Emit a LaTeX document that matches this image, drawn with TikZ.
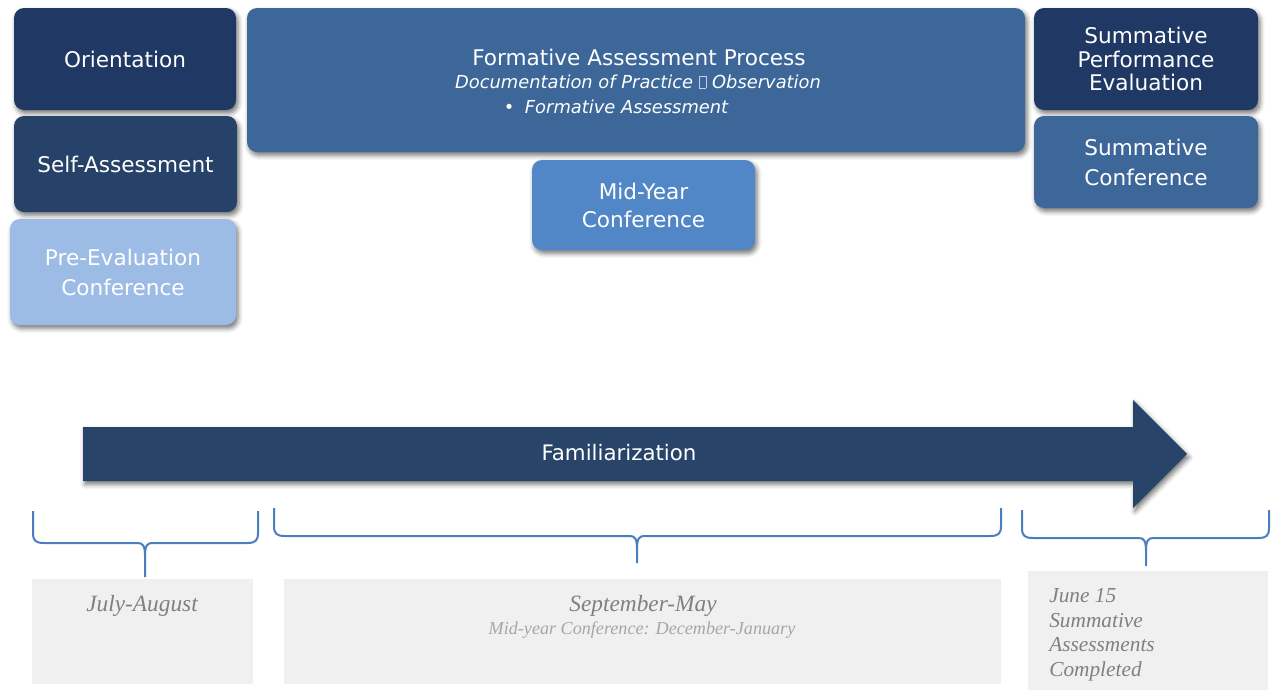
\documentclass[tikz,border=0pt]{standalone}
\usepackage{fontspec}
\setmainfont{DejaVu Sans}
\newfontfamily\timesit{Liberation Serif}[ItalicFont={* Italic}]
\usetikzlibrary{shadows.blur}
\definecolor{navy}{RGB}{31,56,100}
\definecolor{selfc}{RGB}{39,66,104}
\definecolor{prec}{RGB}{157,188,229}
\definecolor{formc}{RGB}{61,103,153}
\definecolor{midc}{RGB}{81,135,198}
\definecolor{arrowc}{RGB}{40,68,105}
\definecolor{bracec}{RGB}{74,126,191}
\definecolor{greybox}{RGB}{240,240,240}
\definecolor{greytext}{RGB}{128,128,128}
\definecolor{lighttext}{RGB}{166,166,166}
\tikzset{
  stagebox/.style={rounded corners=7.5pt, draw=none, text=white, align=center, inner sep=0pt,
    blur shadow={shadow xshift=1.5pt, shadow yshift=-2.5pt, shadow blur radius=3.5pt, shadow opacity=55},
    font=\fontsize{16.2}{22.5}\selectfont},
  brace/.style={draw=bracec, line width=1.5pt},
  datebox/.style={fill=greybox, draw=none, inner sep=0pt},
  datetext/.style={text=greytext, font=\timesit\itshape\fontsize{17.5}{20}\selectfont, inner sep=0pt}
}
\begin{document}
\begin{tikzpicture}[x=0.75pt, y=-0.75pt]
\useasboundingbox (0,0) rectangle (1271,690);
% top-left column
\node[stagebox, fill=navy, minimum width=166.5pt, minimum height=76.5pt] (orient) at (125,59) {Orientation};
\node[stagebox, fill=selfc, minimum width=167.25pt, minimum height=72pt] (self) at (125.5,164) {Self-Assessment};
\node[stagebox, fill=prec, minimum width=169.5pt, minimum height=79.5pt] (preeval) at (123,272) {Pre-Evaluation\\Conference};
% formative
\node[stagebox, fill=formc, minimum width=583.5pt, minimum height=108pt] (formative) at (636,80) {};
\node[anchor=base, text=white, inner sep=0pt, font=\fontsize{16.2}{20}\selectfont] (formtitle) at (639,65) {Formative Assessment Process};
\node[anchor=base, text=white, inner sep=0pt, font=\fontsize{13.4}{16}\selectfont\itshape] (formline2) at (638,88)
  {Documentation of Practice {\color{white!70!formc}\fboxrule=0.4pt\fboxsep=0pt\fbox{\phantom{\rule{5pt}{8.5pt}}}} Observation};
\node[anchor=base, text=white, inner sep=0pt, font=\fontsize{13.4}{16}\selectfont\itshape] (formline3) at (616,113)
  {\textbullet\hspace{8pt}Formative Assessment};
\node[stagebox, fill=midc, minimum width=167.25pt, minimum height=67.5pt, font=\fontsize{16.2}{21}\selectfont] (midyear) at (643.5,205) {Mid-Year\\Conference};
% right column
\node[stagebox, fill=navy, minimum width=168pt, minimum height=76.5pt, font=\fontsize{16.2}{17.6}\selectfont] (sumperf) at (1146,59) {Summative\\Performance\\Evaluation};
\node[stagebox, fill=formc, minimum width=168pt, minimum height=69pt] (sumconf) at (1146,162) {Summative\\Conference};
% arrow
\path[fill=arrowc, blur shadow={shadow xshift=1.5pt, shadow yshift=-2.5pt, shadow blur radius=3.5pt, shadow opacity=55}]
  (83,427) -- (1133,427) -- (1133,400) -- (1187,454) -- (1133,508) -- (1133,481) -- (83,481) -- cycle;
\node[text=white, font=\fontsize{16}{20}\selectfont, inner sep=0pt] (famil) at (619,453) {Familiarization};
% braces
\draw[brace] (33,511) -- (33,533) .. controls (33,541) and (36,543) .. (44,543) -- (138,543)
  .. controls (143,543) and (145,546) .. (145,556) -- (145,577);
\draw[brace] (258,511) -- (258,533) .. controls (258,541) and (255,543) .. (247,543) -- (152,543)
  .. controls (147,543) and (145,546) .. (145,556);
\draw[brace] (274,508) -- (274,526) .. controls (274,534) and (277,536) .. (285,536) -- (630,536)
  .. controls (635,536) and (637,539) .. (637,549) -- (637,563);
\draw[brace] (1001,508) -- (1001,526) .. controls (1001,534) and (998,536) .. (990,536) -- (644,536)
  .. controls (639,536) and (637,539) .. (637,549);
\draw[brace] (1022,510) -- (1022,528) .. controls (1022,536) and (1025,538) .. (1033,538) -- (1139,538)
  .. controls (1144,538) and (1146,541) .. (1146,551) -- (1146,566);
\draw[brace] (1269,510) -- (1269,528) .. controls (1269,536) and (1266,538) .. (1258,538) -- (1153,538)
  .. controls (1148,538) and (1146,541) .. (1146,551);
% date boxes
\node[datebox, minimum width=165.75pt, minimum height=78.75pt] (julybox) at (142.5,631.5) {};
\node[datetext, anchor=base] (july) at (142,611) {July-August};
\node[datebox, minimum width=537.75pt, minimum height=78.75pt] (sepbox) at (642.5,631.5) {};
\node[datetext, anchor=base] (sep) at (643,611) {September-May};
\node[anchor=base, text=lighttext, font=\timesit\itshape\fontsize{13.6}{16}\selectfont, inner sep=0pt] (midnote) at (642,634) {Mid-year Conference: December-January};
\node[datebox, minimum width=180pt, minimum height=89.25pt] (junebox) at (1148,630.5) {};
\node[anchor=north west, text=greytext, align=left, inner sep=0pt, font=\timesit\itshape\fontsize{16}{18.5}\selectfont] (june) at (1049,588)
  {June 15\\Summative\\Assessments\\Completed};
\end{tikzpicture}
\end{document}
